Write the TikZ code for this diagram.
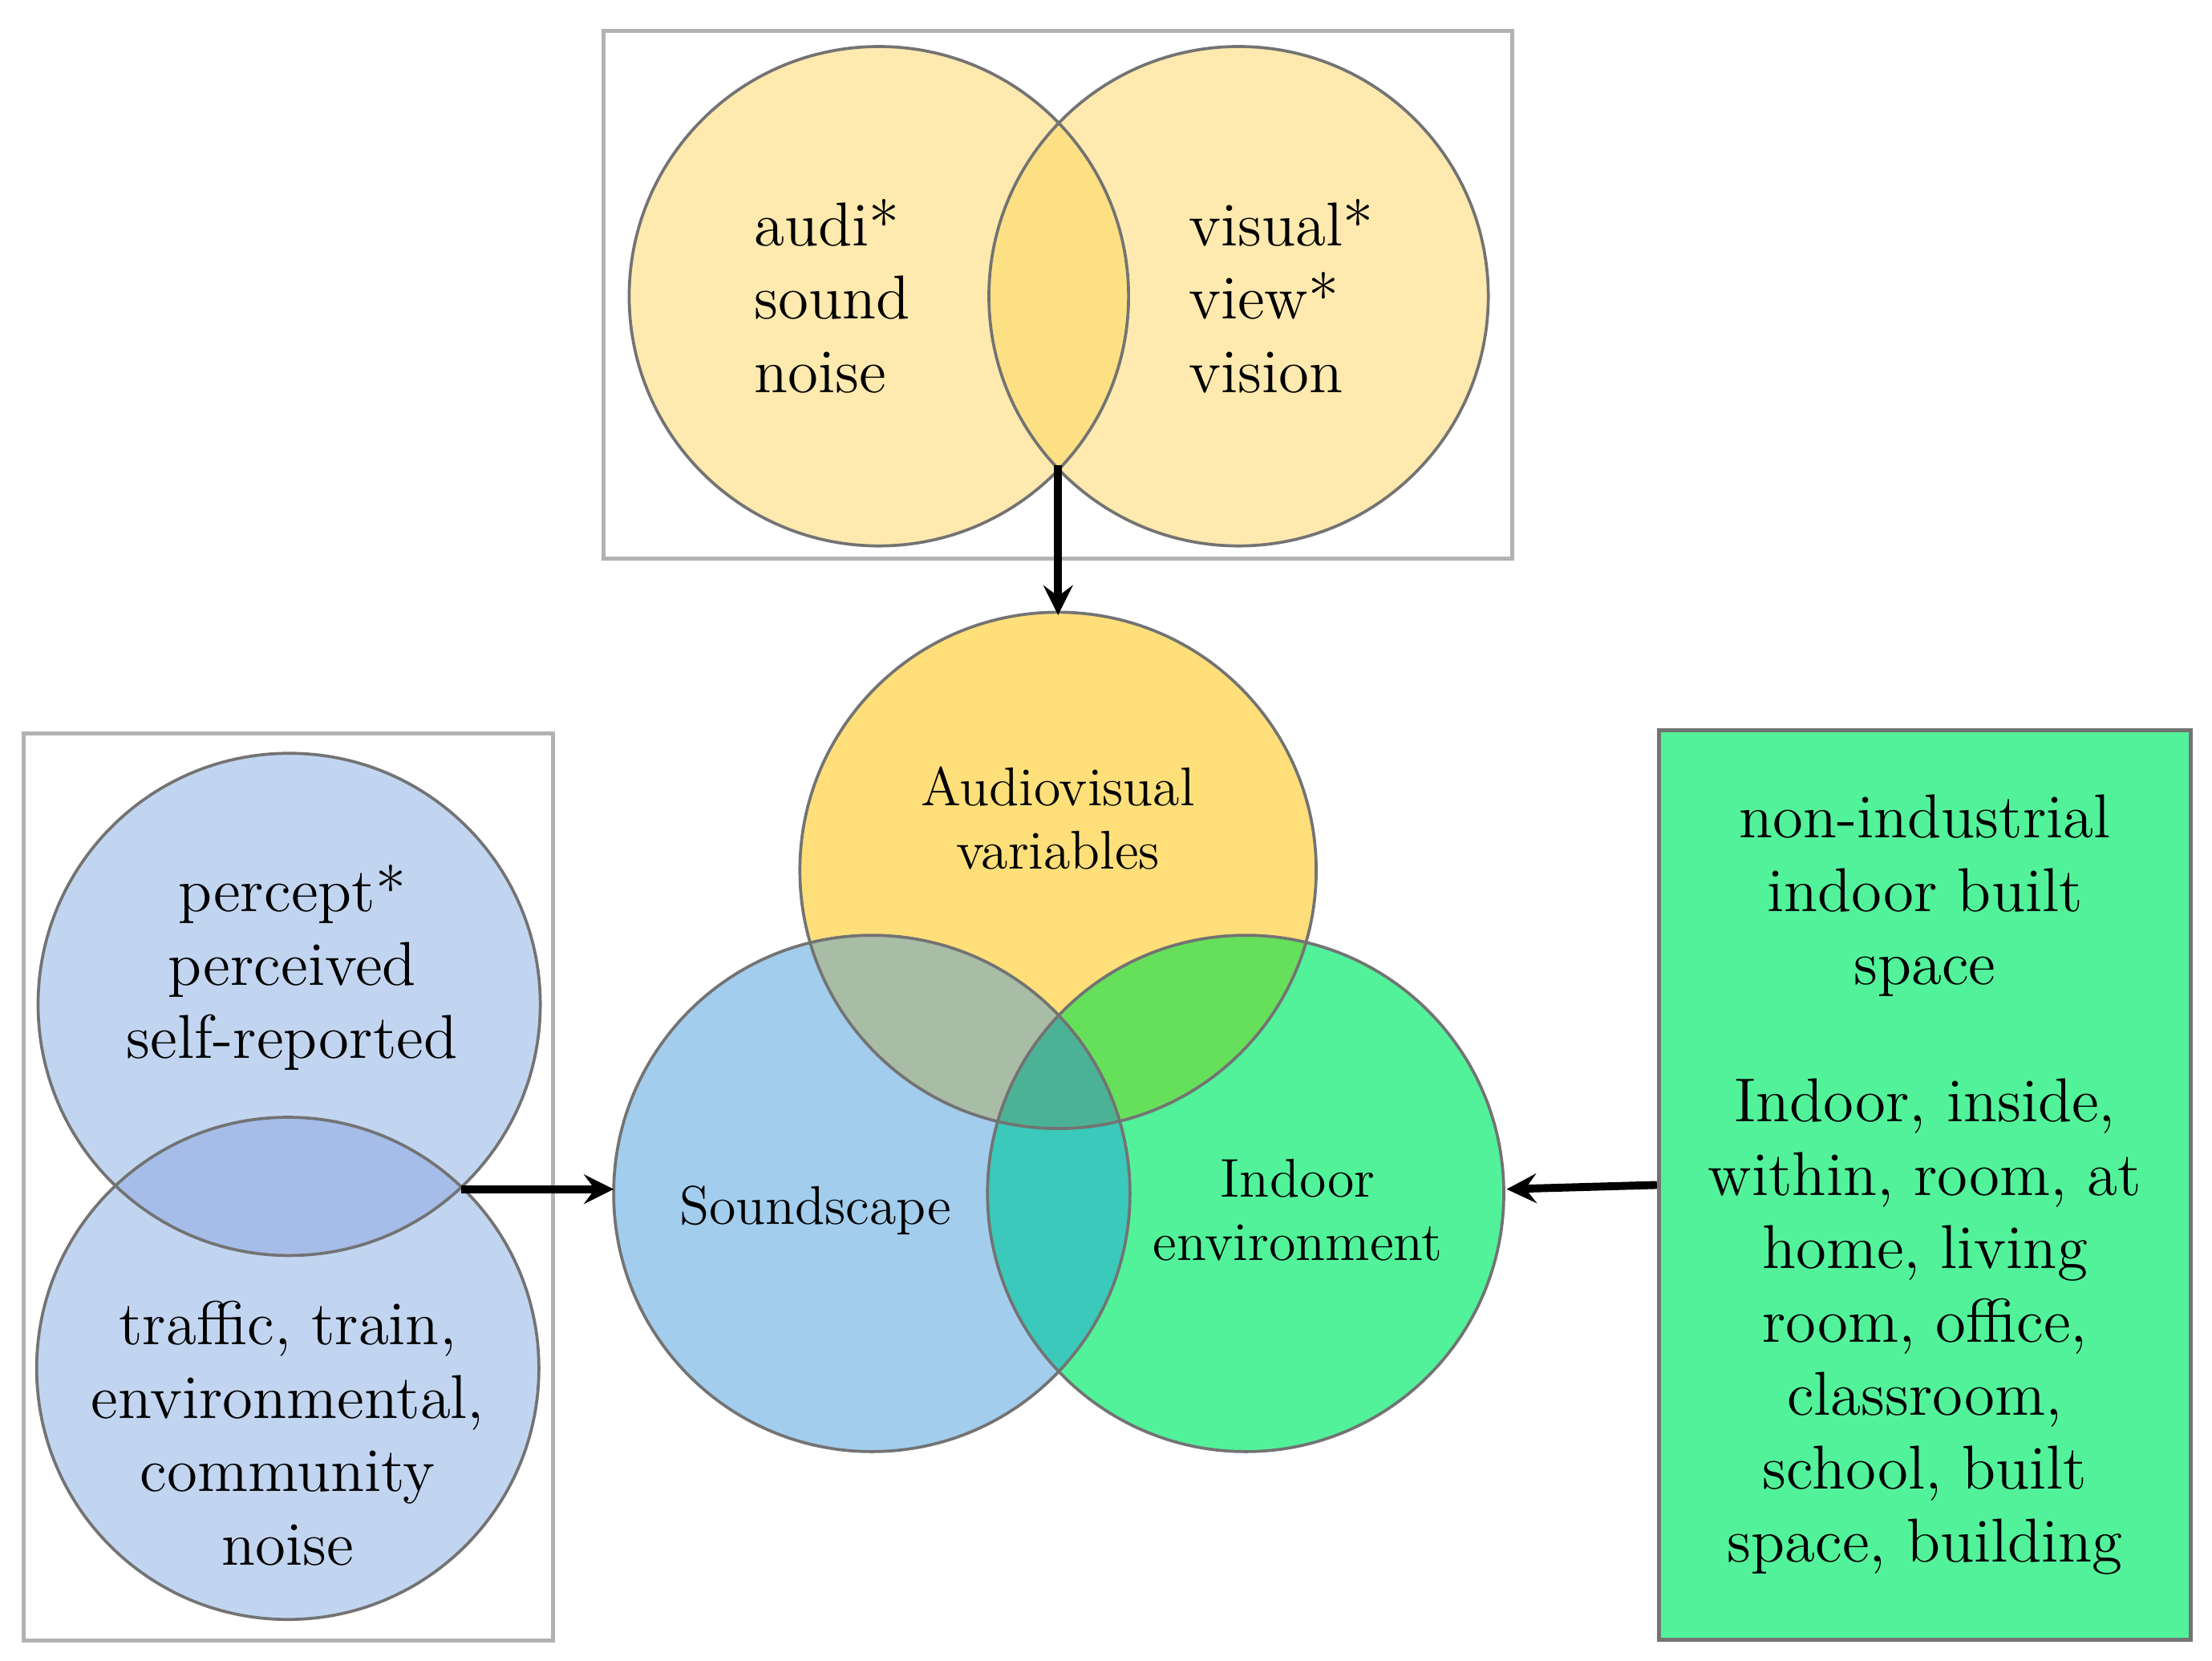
\documentclass[tikz,border=0pt]{standalone}
\usetikzlibrary{positioning}
\definecolor{ylight}{HTML}{FEE9AE}
\definecolor{ymid}{HTML}{FEE084}
\definecolor{yfull}{HTML}{FEDF7A}
\definecolor{bsoft}{HTML}{C2D5F0}
\definecolor{bover}{HTML}{A5BDE8}
\definecolor{bsky}{HTML}{A3CDED}
\definecolor{gmint}{HTML}{52F29A}
\definecolor{olive}{HTML}{A8BCA6}
\definecolor{lime}{HTML}{66E05A}
\definecolor{teal2}{HTML}{3AC9BA}
\definecolor{core}{HTML}{4CB296}
\tikzset{
 ring/.style={draw=black!55, line width=0.6pt},
 frame/.style={draw=black!30, line width=0.8pt},
 big/.style={font=\fontsize{12.5}{14.8}\selectfont, align=center},
 mid/.style={font=\fontsize{11}{12.8}\selectfont, align=center},
 link/.style={-stealth, line width=1.6pt}
}
\begin{document}
\begin{tikzpicture}[x=0.01cm,y=-0.01cm]
\useasboundingbox (0,0) rectangle (1568,1177);
% top box
\draw[frame] (428,22) rectangle (1072,396);
\fill[ylight] (623,210) circle (177);
\fill[ylight] (878,210) circle (177);
\begin{scope}\clip (623,210) circle (177); \fill[ymid] (878,210) circle (177);\end{scope}
\draw[ring] (623,210) circle (177) (878,210) circle (177);
\node[big, align=left] (aud) at (590,210) {audi*\\sound\\noise};
\node[big, align=left] (vis) at (908,210) {visual*\\view*\\vision};
\coordinate (lensbot) at (750,330);
% middle
\fill[yfull] (750,617) circle (183);
\fill[bsky] (618,846) circle (183);
\fill[gmint] (883,846) circle (183);
\begin{scope}\clip (750,617) circle (183); \fill[olive] (618,846) circle (183);
 \fill[lime] (883,846) circle (183);\end{scope}
\begin{scope}\clip (618,846) circle (183); \fill[teal2] (883,846) circle (183);
 \clip (750,617) circle (183); \fill[core] (883,846) circle (183);\end{scope}
\draw[ring] (750,617) circle (183) (618,846) circle (183) (883,846) circle (183);
\node[mid] (av) at (750,580) {Audiovisual\\variables};
\node[mid] (snd) at (578,858) {Soundscape};
\node[mid] (ind) at (920,858) {Indoor\\environment};
% left box
\draw[frame] (17,520) rectangle (392,1163);
\fill[bsoft] (205,712) circle (178) (204,970) circle (178);
\begin{scope}\clip (205,712) circle (178); \fill[bover] (204,970) circle (178);\end{scope}
\draw[ring] (205,712) circle (178) (204,970) circle (178);
\node[big] (perc) at (207,686) {percept*\\perceived\\self-reported};
\node[big] (traf) at (204,1016) {traffic, train,\\environmental,\\community\\noise};
\coordinate (lenslft) at (327,843);
% right box
\node[draw=black!55, fill=gmint, line width=0.8pt, minimum width=3.77cm, minimum height=6.44cm] (kw) at (1364.5,840) {};
\node[big] (kwtxt) at (1364.5,840) {non-industrial\\indoor built\\space\\[0.45cm]Indoor, inside,\\within, room, at\\home, living\\room, office,\\classroom,\\school, built\\space, building};
% arrows
\draw[link] (lensbot) -- (750,436);
\draw[link] (lenslft) -- (435,843);
\draw[link] (kw.west) -- (1068,843);
\end{tikzpicture}
\end{document}
